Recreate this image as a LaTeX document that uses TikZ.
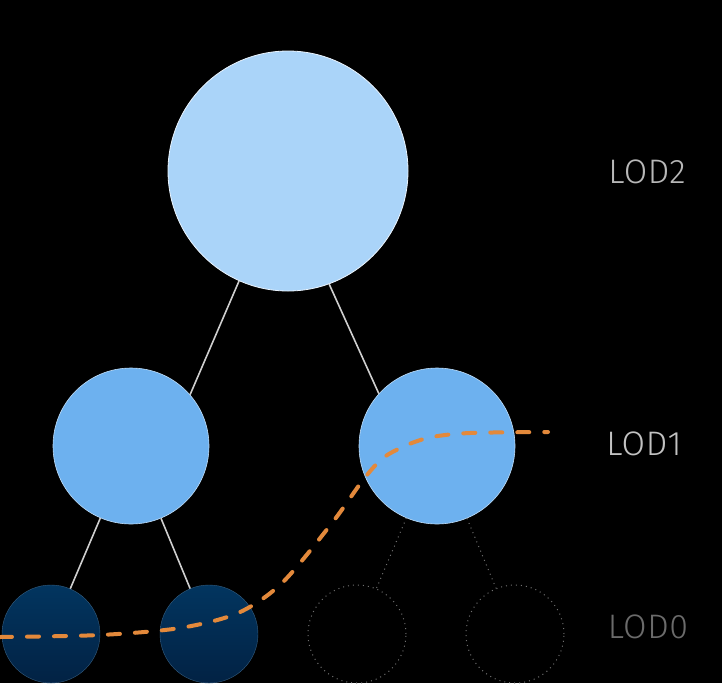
\documentclass[tikz,border=0pt]{standalone}
\usepackage{fontspec}
\newfontfamily\lodfont{Fira Sans Light}[LetterSpace=2]
\definecolor{rootc}{HTML}{AAD4F9}
\definecolor{midc}{HTML}{6DB1EF}
\definecolor{leaftop}{HTML}{02355F}
\definecolor{leafbot}{HTML}{022244}
\definecolor{edgec}{HTML}{CFCFCF}
\definecolor{curvec}{HTML}{E3893B}
\definecolor{dotc}{HTML}{707070}
\tikzset{
  x=1pt, y=-1pt,
  rootnode/.style={circle, minimum size=240pt, inner sep=0pt, fill=rootc, draw=white!75!rootc, line width=0.8pt},
  midnode/.style={circle, minimum size=156pt, inner sep=0pt, fill=midc, draw=white!55!midc, line width=0.6pt},
  leafnode/.style={circle, minimum size=98pt, inner sep=0pt, top color=leaftop, bottom color=leafbot, draw=leaftop!80!white, line width=0.4pt},
  ghostnode/.style={circle, minimum size=98pt, inner sep=0pt, draw=dotc, line width=1pt, dash pattern=on 1pt off 4pt},
  treeedge/.style={draw=edgec, line width=1.6pt},
  ghostedge/.style={draw=dotc, line width=1pt, dash pattern=on 1pt off 4pt},
  lodlabel/.style={font=\lodfont\fontsize{34}{36}\selectfont, inner sep=0pt},
  lodcurve/.style={draw=curvec, line width=4pt, line cap=round, dash pattern=on 12pt off 15pt},
}
\begin{document}
\begin{tikzpicture}
\fill[black] (0,0) rectangle (722,683);
\useasboundingbox (0,0) rectangle (722,683);

\node[rootnode] (root) at (288,171) {};
\node[midnode] (l1) at (131,446) {};
\node[midnode] (r1) at (437,446) {};
\node[leafnode] (ll) at (51,634) {};
\node[leafnode] (lr) at (209,634) {};
\node[ghostnode] (rl) at (357,634) {};
\node[ghostnode] (rr) at (515,634) {};

\draw[treeedge] (root.246.5) -- (l1.41.9);
\draw[treeedge] (root.290.7) -- (r1.138.2);
\draw[treeedge] (l1) -- (ll);
\draw[treeedge] (l1) -- (lr);
\draw[ghostedge] (r1) -- (rl);
\draw[ghostedge] (r1) -- (rr);

\draw[lodcurve] plot[smooth, tension=0.5] coordinates {(0,637) (100,635) (180,628) (238,613) (282,583) (332,523) (363,480) (383,458) (407,445) (432,437) (470,433) (548,432)};

\node[lodlabel, text=white!72!black] (lod2) at (647,172) {LOD2};
\node[lodlabel, text=white!76!black] (lod1) at (644,444) {LOD1};
\node[lodlabel, text=white!42!black] (lod0) at (648,627) {LOD0};
\end{tikzpicture}
\end{document}
